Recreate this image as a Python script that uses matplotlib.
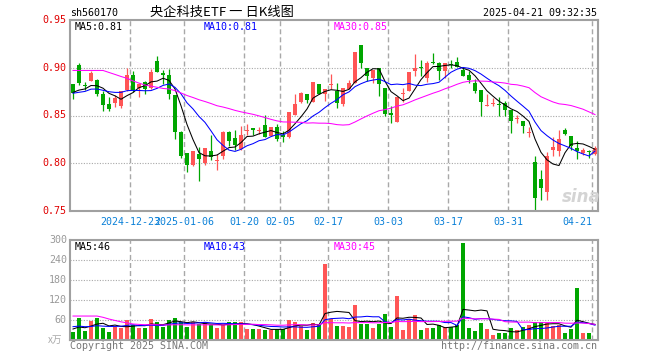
import matplotlib
matplotlib.use('Agg')
import matplotlib.pyplot as plt
import numpy as np

# daily K data, 2024-12-09 .. 2025-04-21 (88 trading days)
open_ = [0.883, 0.903, 0.882, 0.886, 0.887, 0.872, 0.862, 0.863, 0.860, 0.877,
         0.892, 0.879, 0.885, 0.879, 0.907, 0.895, 0.892, 0.871, 0.833, 0.811,
         0.798, 0.810, 0.800, 0.813, 0.802, 0.808, 0.833, 0.826, 0.815, 0.834,
         0.837, 0.834, 0.840, 0.829, 0.838, 0.829, 0.827, 0.851, 0.864, 0.873,
         0.864, 0.883, 0.873, 0.882, 0.876, 0.862, 0.878, 0.884, 0.924, 0.900,
         0.889, 0.900, 0.879, 0.852, 0.843, 0.872, 0.876, 0.897, 0.901, 0.889,
         0.906, 0.905, 0.897, 0.904, 0.906, 0.898, 0.892, 0.884, 0.877, 0.860,
         0.862, 0.862, 0.863, 0.856, 0.846, 0.844, 0.832, 0.801, 0.783, 0.770,
         0.814, 0.813, 0.835, 0.829, 0.816, 0.811, 0.813, 0.810]
close = [0.874, 0.884, 0.881, 0.894, 0.873, 0.861, 0.857, 0.868, 0.876, 0.892,
         0.877, 0.883, 0.878, 0.896, 0.896, 0.892, 0.872, 0.833, 0.808, 0.798,
         0.813, 0.804, 0.816, 0.807, 0.803, 0.833, 0.823, 0.819, 0.830, 0.835,
         0.835, 0.835, 0.828, 0.838, 0.825, 0.828, 0.854, 0.862, 0.874, 0.866,
         0.885, 0.873, 0.878, 0.883, 0.863, 0.879, 0.884, 0.917, 0.905, 0.891,
         0.898, 0.883, 0.852, 0.851, 0.869, 0.873, 0.896, 0.900, 0.900, 0.905,
         0.905, 0.897, 0.905, 0.903, 0.901, 0.891, 0.887, 0.876, 0.864, 0.861,
         0.863, 0.861, 0.856, 0.844, 0.847, 0.839, 0.833, 0.764, 0.774, 0.808,
         0.817, 0.825, 0.831, 0.818, 0.813, 0.814, 0.812, 0.816]
high = [0.883, 0.905, 0.885, 0.897, 0.888, 0.876, 0.869, 0.871, 0.876, 0.900,
        0.897, 0.884, 0.886, 0.899, 0.912, 0.898, 0.899, 0.871, 0.834, 0.811,
        0.813, 0.817, 0.816, 0.830, 0.810, 0.834, 0.834, 0.835, 0.839, 0.841,
        0.837, 0.838, 0.851, 0.838, 0.841, 0.834, 0.854, 0.872, 0.875, 0.873,
        0.885, 0.883, 0.878, 0.893, 0.884, 0.879, 0.887, 0.917, 0.924, 0.900,
        0.898, 0.900, 0.879, 0.860, 0.869, 0.879, 0.896, 0.914, 0.908, 0.907,
        0.915, 0.906, 0.905, 0.908, 0.911, 0.901, 0.897, 0.888, 0.877, 0.872,
        0.868, 0.869, 0.865, 0.856, 0.851, 0.844, 0.838, 0.808, 0.793, 0.812,
        0.828, 0.835, 0.837, 0.829, 0.823, 0.816, 0.814, 0.818]
low = [0.867, 0.882, 0.877, 0.886, 0.870, 0.855, 0.855, 0.859, 0.858, 0.876,
       0.875, 0.869, 0.873, 0.878, 0.896, 0.883, 0.867, 0.825, 0.805, 0.791,
       0.797, 0.781, 0.798, 0.803, 0.793, 0.804, 0.818, 0.814, 0.814, 0.830,
       0.830, 0.831, 0.828, 0.829, 0.823, 0.822, 0.826, 0.851, 0.863, 0.863,
       0.864, 0.873, 0.865, 0.878, 0.858, 0.860, 0.878, 0.884, 0.900, 0.886,
       0.884, 0.870, 0.849, 0.842, 0.843, 0.864, 0.876, 0.891, 0.891, 0.885,
       0.904, 0.887, 0.889, 0.900, 0.901, 0.891, 0.884, 0.874, 0.850, 0.860,
       0.860, 0.850, 0.850, 0.832, 0.842, 0.832, 0.828, 0.750, 0.762, 0.762,
       0.808, 0.808, 0.830, 0.814, 0.804, 0.809, 0.805, 0.809]
# volume in 万手
volume = [25, 65, 27, 57, 65, 37, 25, 40, 37, 60,
          45, 35, 37, 63, 55, 40, 60, 67, 53, 40,
          53, 47, 53, 45, 37, 45, 55, 55, 55, 33,
          33, 33, 30, 30, 33, 33, 60, 55, 43, 30,
          50, 47, 227, 63, 42, 42, 39, 105, 48, 48,
          35, 48, 77, 39, 132, 30, 63, 75, 30, 35,
          35, 45, 39, 39, 45, 291, 35, 27, 51, 33,
          15, 21, 21, 35, 29, 39, 45, 53, 53, 50,
          43, 45, 21, 33, 155, 21, 21, 3]

# 29 days before the window, estimated from where the MA lines start
prior_close = [0.884, 0.881, 0.894, 0.873, 0.861, 0.920, 0.930, 0.940, 0.950, 0.960,
               0.950, 0.940, 0.930, 0.930, 0.930, 0.890, 0.885, 0.880, 0.878, 0.876,
               0.874, 0.872, 0.870, 0.872, 0.874, 0.872, 0.875, 0.876, 0.874]
prior_volume = [65, 27, 57, 65, 150, 180, 170, 160, 150, 150,
                70, 65, 60, 62, 58, 55, 55, 52, 55, 50,
                48, 45, 50, 42, 50, 35, 38, 32, 35]

tick_idx = [10, 19, 29, 35, 43, 53, 63, 73, 87]
tick_labels = ['2024-12-23', '2025-01-06', '01-20', '02-05', '02-17',
               '03-03', '03-17', '03-31', '04-21']
price_ticks = [0.95, 0.90, 0.85, 0.80, 0.75]
vol_ticks = [300, 240, 180, 120, 60]

ma_periods = [5, 10, 30]
ma_colors = ['black', '#0000ff', '#ff00ff']
price_ma_text = ['MA5:0.81', 'MA10:0.81', 'MA30:0.85']
vol_ma_text = ['MA5:46', 'MA10:43', 'MA30:45']

RED = '#ff5555'
GREEN = '#00a600'
GRID = '#a8a8a8'
MONO = 'DejaVu Sans Mono'
CJK = ['Noto Sans CJK SC', 'DejaVu Sans']

W, H = 660, 360


def moving_average(prior, values, n):
    full = np.array(prior + values, dtype=float)
    ma = np.convolve(full, np.ones(n) / n, mode='valid')
    return ma[-len(values):]


def style_panel(ax, ylo, yhi, grid_vals):
    ax.set_xlim(-0.5, len(close) - 0.5)
    ax.set_ylim(ylo, yhi)
    ax.set_xticks([])
    ax.set_yticks([])
    for s in ax.spines.values():
        s.set_color('#a0a0a0')
        s.set_linewidth(1.5)
    for g in grid_vals:
        ax.axhline(g, color=GRID, lw=0.8, ls=(0, (1, 1.4)), zorder=0)
    for t in tick_idx:
        ax.axvline(t - 0.5, color=GRID, lw=1.0, ls=(0, (3.6, 2.2)), zorder=0)


fig = plt.figure(figsize=(W / 100, H / 100), dpi=100)
ax = fig.add_axes([70 / W, 1 - 211 / H, 528 / W, 191 / H])
axv = fig.add_axes([70 / W, 1 - 340 / H, 528 / W, 100 / H])

style_panel(ax, 0.75, 0.95, [0.80, 0.85, 0.90])
style_panel(axv, 0, 300, [60, 120, 180, 240])

x = np.arange(len(close))
o = np.array(open_)
c = np.array(close)
colors = [RED if c[i] >= o[i] else GREEN for i in x]

# candles
ax.vlines(x, low, high, colors=colors, lw=0.9, zorder=2)
body = np.maximum(np.abs(c - o), 0.0011)
ax.bar(x, body, bottom=np.minimum(o, c), width=0.82, color=colors,
       linewidth=0, zorder=3)

# volume bars
axv.bar(x, volume, width=0.82, color=colors, linewidth=0, zorder=2)

for n, col in zip(ma_periods, ma_colors):
    ax.plot(x, moving_average(prior_close, close, n), color=col, lw=0.75, zorder=4)
    axv.plot(x, moving_average(prior_volume, volume, n), color=col, lw=0.75, zorder=4)

# date labels
for t, lab in zip(tick_idx, tick_labels):
    ha = 'right' if t == tick_idx[-1] else 'center'
    ax.text(t - 0.5, -0.056, lab, transform=ax.get_xaxis_transform(),
            ha=ha, va='center', color='#0a80d8', fontsize=7.2, family=MONO)

# price / volume axis labels
for p in price_ticks:
    ax.text(-0.006, p, f'{p:.2f}', transform=ax.get_yaxis_transform(),
            ha='right', va='center', color='#e00000', fontsize=7.2, family=MONO)
for v in vol_ticks:
    axv.text(-0.006, v, str(v), transform=axv.get_yaxis_transform(),
             ha='right', va='center', color='#999999', fontsize=7.2, family=MONO)
fig.text(48 / W, 1 - 340 / H, 'x万', ha='left', va='center', color='#aaaaaa',
         fontsize=7, family=CJK, style='italic')

# MA legends
for px, txt, col in zip([75, 204, 334], price_ma_text, ma_colors):
    fig.text(px / W, 1 - 26.5 / H, txt, ha='left', va='center', color=col,
             fontsize=7.2, family=MONO)
for px, txt, col in zip([75, 204, 334], vol_ma_text, ma_colors):
    fig.text(px / W, 1 - 247 / H, txt, ha='left', va='center', color=col,
             fontsize=7.2, family=MONO)

# header / footer
fig.text(70 / W, 1 - 13 / H, 'sh560170', ha='left', va='center',
         fontsize=7.2, family=MONO)
fig.text(222 / W, 1 - 12.5 / H, '央企科技ETF 一 日K线图', ha='center', va='center',
         fontsize=9.5, family=CJK)
fig.text(597 / W, 1 - 13 / H, '2025-04-21 09:32:35', ha='right', va='center',
         fontsize=7.2, family=MONO)
fig.text(70 / W, 1 - 346 / H, 'Copyright 2025 SINA.COM', ha='left', va='center',
         color='#777777', fontsize=7.2, family=MONO)
fig.text(597 / W, 1 - 346 / H, 'http://finance.sina.com.cn', ha='right', va='center',
         color='#777777', fontsize=7.2, family=MONO)

# watermark
fig.text(581 / W, 1 - 197 / H, 'sina', ha='center', va='center', color='#d4d4d4',
         fontsize=12, fontweight='bold', style='italic', family='DejaVu Sans', zorder=1)

fig.savefig('out.png', dpi=100)
